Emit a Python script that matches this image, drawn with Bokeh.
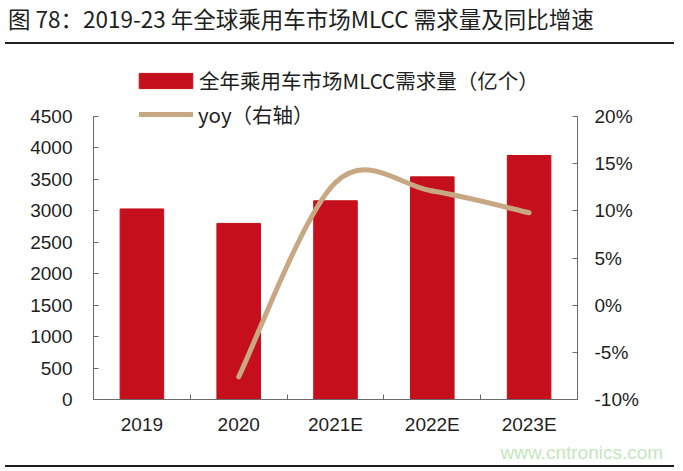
from bokeh.plotting import figure
from bokeh.models import (Range1d, LinearAxis, FixedTicker, NumeralTickFormatter,
                          Legend, LegendItem, Title, Div, ColumnDataSource)
from bokeh.layouts import column
from bokeh.embed import file_html
from bokeh.resources import INLINE

# ---- data ----
categories = ["2019", "2020", "2021E", "2022E", "2023E"]
demand = [3030, 2800, 3160, 3540, 3880]          # 亿个
yoy_categories = ["2020", "2021E", "2022E", "2023E"]
yoy = [-0.076, 0.130, 0.121, 0.098]
left_ticks = [0, 500, 1000, 1500, 2000, 2500, 3000, 3500, 4000, 4500]
right_ticks = [-0.10, -0.05, 0.0, 0.05, 0.10, 0.15, 0.20]

title_text = "图 78：2019-23 年全球乘用车市场MLCC 需求量及同比增速"
bar_label = "全年乘用车市场MLCC需求量（亿个）"
line_label = "yoy（右轴）"
watermark = "www.cntronics.com"

BAR = "#C60F1C"
LINE = "#C8A783"
TXT = "#1e1e1e"
AX = "#6a6a6a"
CJK = "Noto Sans CJK SC"
LAT = "Liberation Sans"

xpos = {c: i + 0.5 for i, c in enumerate(categories)}

# frame extends above the 4500 line so the legend sits inside it
FRAME_TOP, Y_TOP, Y_BOT = 13, 72, 355
scale_up = (Y_BOT - FRAME_TOP) / (Y_BOT - Y_TOP)
left_max, right_min, right_max = 4500, -0.10, 0.20

div = Div(text=title_text, width=669, height=44, margin=(0, 0, 0, 5),
          styles={"font-family": CJK, "font-size": "22.5px", "color": TXT,
                  "border-bottom": "2px solid #222222", "line-height": "36px",
                  "padding-left": "3px", "box-sizing": "border-box", "white-space": "nowrap"})

p = figure(width=683, height=421, output_backend="svg", toolbar_location=None,
           x_range=Range1d(0, 5), y_range=Range1d(0, left_max * scale_up),
           min_border_left=93, min_border_right=106, min_border_top=FRAME_TOP,
           min_border_bottom=421 - Y_BOT)
p.outline_line_color = None
p.xgrid.visible = False
p.ygrid.visible = False
p.background_fill_color = "white"
p.border_fill_color = "white"
p.extra_y_ranges = {"right": Range1d(right_min, right_min + (right_max - right_min) * scale_up)}

# bars
src = ColumnDataSource(dict(x=[xpos[c] for c in categories], top=demand))
bars = p.vbar(x="x", top="top", width=0.45, bottom=0, source=src,
              fill_color=BAR, line_color=BAR)

# smooth yoy curve (Catmull-Rom -> cubic Bezier, computed from the data points)
px = [xpos[c] for c in yoy_categories]
py = yoy
n = len(px)
x0, y0, x1, y1, cx0, cy0, cx1, cy1 = [], [], [], [], [], [], [], []
for i in range(n - 1):
    ip = max(i - 1, 0)
    inx = min(i + 2, n - 1)
    x0.append(px[i]); y0.append(py[i])
    x1.append(px[i + 1]); y1.append(py[i + 1])
    cx0.append(px[i] + (px[i + 1] - px[ip]) / 6)
    cy0.append(py[i] + (py[i + 1] - py[ip]) / 6)
    cx1.append(px[i + 1] - (px[inx] - px[i]) / 6)
    cy1.append(py[i + 1] - (py[inx] - py[i]) / 6)
bsrc = ColumnDataSource(dict(x0=x0, y0=y0, x1=x1, y1=y1, cx0=cx0, cy0=cy0, cx1=cx1, cy1=cy1))
curve = p.bezier(x0="x0", y0="y0", x1="x1", y1="y1", cx0="cx0", cy0="cy0", cx1="cx1", cy1="cy1",
                 source=bsrc, line_color=LINE, line_width=5, line_cap="round", y_range_name="right")

# axes
xa = p.xaxis[0]
xa.ticker = FixedTicker(ticks=[xpos[c] for c in categories], minor_ticks=[0, 1, 2, 3, 4, 5])
xa.major_label_overrides = {xpos[c]: c for c in categories}
xa.major_tick_in = 0
xa.major_tick_out = 0
xa.minor_tick_in = 5
xa.minor_tick_out = 0
xa.axis_line_color = AX
xa.minor_tick_line_color = AX
xa.major_label_text_font = LAT
xa.major_label_text_font_size = "19px"
xa.major_label_text_color = TXT
xa.major_label_standoff = 14

ya = p.yaxis[0]
ya.ticker = FixedTicker(ticks=left_ticks)
ya.bounds = (0, left_max)
ya.major_tick_in = 5
ya.major_tick_out = 0
ya.minor_tick_line_color = None
ya.axis_line_color = AX
ya.major_tick_line_color = AX
ya.major_label_text_font = LAT
ya.major_label_text_font_size = "19px"
ya.major_label_text_color = TXT
ya.major_label_standoff = 21

ra = LinearAxis(y_range_name="right", ticker=FixedTicker(ticks=right_ticks),
                formatter=NumeralTickFormatter(format="0%"), bounds=(right_min, right_max))
ra.major_tick_in = 5
ra.major_tick_out = 0
ra.minor_tick_line_color = None
ra.axis_line_color = AX
ra.major_tick_line_color = AX
ra.major_label_text_font = LAT
ra.major_label_text_font_size = "19px"
ra.major_label_text_color = TXT
ra.major_label_standoff = 17
p.add_layout(ra, "right")

# legends
def mk_legend(label, rends, loc, gw, gh, standoff):
    lg = Legend(items=[LegendItem(label=label, renderers=rends)], location=loc,
                orientation="vertical", padding=0, margin=0, spacing=0,
                glyph_width=gw, glyph_height=gh, label_standoff=standoff,
                label_text_font=CJK, label_text_font_size="20.5px", label_text_color=TXT,
                border_line_color=None, background_fill_alpha=0)
    p.add_layout(lg)

mk_legend(bar_label, [bars], (39, 304), 67, 19, 0)
mk_legend(line_label, [curve], (46, 270), 54, 24, 5)

# watermark
p.add_layout(Title(text=watermark, align="left", offset=407, text_font=LAT,
                   text_font_size="19px", text_color="#C3E7BD", text_font_style="normal",
                   standoff=4), "below")

rule = Div(text="&nbsp;", width=669, height=3, margin=(0, 0, 0, 5),
           styles={"border-top": "2px solid #1e1e1e", "font-size": "1px", "line-height": "1px",
                   "box-sizing": "border-box", "overflow": "hidden"})

open("out.html", "w").write(file_html(column(div, p, rule, spacing=0), INLINE))
